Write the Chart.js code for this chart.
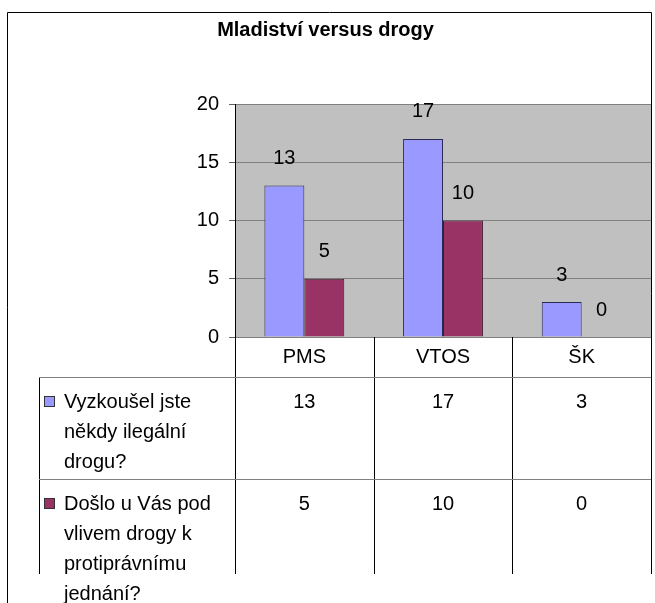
<!DOCTYPE html>
<html lang="cs">
<head>
    <meta charset="UTF-8">
    <title>Mladiství versus drogy</title>
    <script src="https://cdn.jsdelivr.net/npm/chart.js"></script>
    <style>
        body {
            margin: 0;
            background: #ffffff;
        }
        #chart {
            display: block;
        }
    </style>
</head>
<body>
    <canvas id="chart" width="655" height="603"></canvas>

    <script>
        // --- Data ---
        const categories = ['PMS', 'VTOS', 'ŠK'];
        const seriesNames = [
            'Vyzkoušel jste někdy ilegální drogu?',
            'Došlo u Vás pod vlivem drogy k protiprávnímu jednání?'
        ];
        const triedDrugs = [13, 17, 3];
        const illegalAct = [5, 10, 0];
        const yTicks = [0, 5, 10, 15, 20];
        const seriesColors = ['#9999ff', '#993366'];

        const FONT = '"Liberation Sans", Arial, sans-serif';
        const TXT = 20;

        // gray plot background
        const plotBg = {
            id: 'plotBg',
            beforeDraw(chart) {
                const { ctx, chartArea: a } = chart;
                ctx.save();
                ctx.fillStyle = '#c0c0c0';
                ctx.fillRect(a.left, a.top, a.right - a.left, a.bottom - a.top);
                ctx.restore();
            }
        };

        // numbers above the bars
        const barLabels = {
            id: 'barLabels',
            afterDatasetsDraw(chart) {
                const ctx = chart.ctx;
                ctx.save();
                ctx.font = TXT + 'px ' + FONT;
                ctx.fillStyle = '#000';
                ctx.textAlign = 'center';
                ctx.textBaseline = 'middle';
                chart.data.datasets.forEach((ds, di) => {
                    chart.getDatasetMeta(di).data.forEach((bar, i) => {
                        ctx.fillText(ds.data[i], bar.x, bar.y - 27);
                    });
                });
                ctx.restore();
            }
        };

        function wrap(ctx, text, maxW) {
            const words = text.split(' ');
            const lines = [];
            let cur = '';
            words.forEach(w => {
                const t = cur ? cur + ' ' + w : w;
                if (ctx.measureText(t).width > maxW && cur) {
                    lines.push(cur);
                    cur = w;
                } else {
                    cur = t;
                }
            });
            if (cur) lines.push(cur);
            return lines;
        }

        // data table under the plot + outer frame
        const dataTable = {
            id: 'dataTable',
            afterDraw(chart) {
                const { ctx, chartArea: a } = chart;
                const x = chart.scales.x;
                const colW = (a.right - a.left) / categories.length;
                const headTop = a.bottom;
                const row1 = 377, row2 = 479, tableEnd = 574;
                const tableLeft = 39;

                ctx.save();
                // outer frame
                ctx.strokeStyle = '#000';
                ctx.lineWidth = 1;
                ctx.beginPath();
                ctx.moveTo(7.5, 603);
                ctx.lineTo(7.5, 12.5);
                ctx.lineTo(651.5, 12.5);
                ctx.lineTo(651.5, tableEnd);
                ctx.stroke();

                // table lines
                ctx.strokeStyle = '#000';
                ctx.beginPath();
                for (let i = 0; i <= categories.length; i++) {
                    const cx = Math.round(a.left + i * colW) + 0.5;
                    ctx.moveTo(cx, headTop);
                    ctx.lineTo(cx, tableEnd);
                }
                ctx.moveTo(tableLeft + 0.5, row1);
                ctx.lineTo(tableLeft + 0.5, tableEnd);
                ctx.stroke();
                ctx.strokeStyle = '#808080';
                ctx.beginPath();
                ctx.moveTo(tableLeft, row1 + 0.5);
                ctx.lineTo(a.right, row1 + 0.5);
                ctx.moveTo(tableLeft, row2 + 0.5);
                ctx.lineTo(a.right, row2 + 0.5);
                ctx.stroke();

                ctx.font = TXT + 'px ' + FONT;
                ctx.fillStyle = '#000';
                ctx.textBaseline = 'middle';

                // category header
                ctx.textAlign = 'center';
                categories.forEach((c, i) => {
                    ctx.fillText(c, x.getPixelForValue(i), (headTop + row1) / 2);
                });

                // series rows
                const rowTops = [row1, row2];
                chart.data.datasets.forEach((ds, di) => {
                    const firstY = rowTops[di] + 25;
                    ctx.textAlign = 'center';
                    ds.data.forEach((v, i) => {
                        ctx.fillText(v, x.getPixelForValue(i), firstY);
                    });
                    ctx.textAlign = 'left';
                    const lines = wrap(ctx, ds.label, 168);
                    lines.forEach((ln, li) => {
                        ctx.fillText(ln, 64, firstY + li * 30);
                    });
                    // legend key
                    ctx.fillStyle = ds.backgroundColor;
                    ctx.fillRect(44.5, firstY - 5.5, 10, 10);
                    ctx.strokeStyle = '#333';
                    ctx.strokeRect(44.5, firstY - 5.5, 10, 10);
                    ctx.fillStyle = '#000';
                });
                ctx.restore();
            }
        };

        new Chart(document.getElementById('chart'), {
            type: 'bar',
            data: {
                labels: categories,
                datasets: [
                    {
                        label: seriesNames[0],
                        data: triedDrugs,
                        backgroundColor: seriesColors[0],
                        borderColor: '#2a2a55',
                        borderWidth: 1,
                        barPercentage: 1,
                        categoryPercentage: 0.576
                    },
                    {
                        label: seriesNames[1],
                        data: illegalAct,
                        backgroundColor: seriesColors[1],
                        borderColor: '#3a1a28',
                        borderWidth: 1,
                        barPercentage: 1,
                        categoryPercentage: 0.576
                    }
                ]
            },
            options: {
                responsive: false,
                animation: false,
                layout: {
                    padding: { left: 0, right: 4, top: 0, bottom: 266 }
                },
                plugins: {
                    legend: { display: false },
                    tooltip: { enabled: false },
                    title: {
                        display: true,
                        text: 'Mladiství versus drogy',
                        color: '#000',
                        font: { family: FONT, size: 20, weight: 'bold' },
                        padding: { top: 18, bottom: 62 }
                    }
                },
                scales: {
                    x: {
                        display: false
                    },
                    y: {
                        min: 0,
                        max: 20,
                        afterBuildTicks(scale) {
                            scale.ticks = yTicks.map(v => ({ value: v }));
                        },
                        afterFit(scale) {
                            scale.width = 235;
                        },
                        ticks: {
                            color: '#000',
                            padding: 10,
                            font: { family: FONT, size: TXT }
                        },
                        grid: {
                            color: '#808080',
                            tickColor: '#606060',
                            tickLength: 6
                        },
                        border: {
                            display: true,
                            color: '#000'
                        }
                    }
                }
            },
            plugins: [plotBg, barLabels, dataTable]
        });
    </script>
</body>
</html>
